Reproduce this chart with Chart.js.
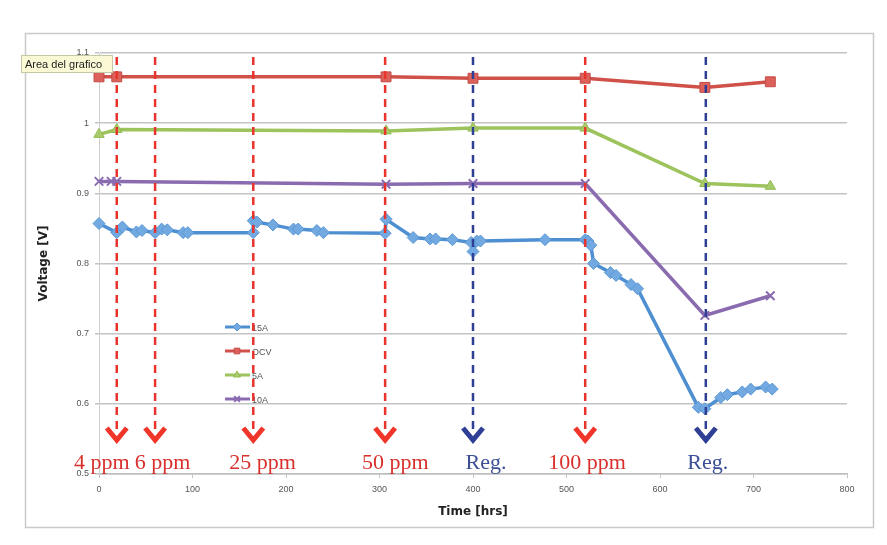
<!DOCTYPE html>
<html lang="en">
<head>
  <meta charset="UTF-8" />
  <title>Voltage vs Time</title>
  <script src="https://cdn.jsdelivr.net/npm/chart.js"></script>
  <style>
    body { margin: 0; background: #fff; }
    #wrap { width: 887px; height: 545px; }
  </style>
</head>
<body>
  <div id="wrap"><canvas id="voltChart"></canvas></div>
  <script>
    // series values
    const time15A = [0, 19, 25, 40, 46, 60, 67, 73, 90, 95, 165, 165, 169, 186, 208, 213, 233, 240,
                     306, 307, 336, 354, 360, 378, 398, 400, 404, 408, 477, 520, 523, 526, 529,
                     547, 553, 569, 576, 641, 648, 665, 672, 688, 697, 713, 720];
    const volt15A = [0.857, 0.844, 0.852, 0.845, 0.847, 0.844, 0.849, 0.848, 0.844, 0.844, 0.844, 0.861,
                     0.859, 0.855, 0.849, 0.849, 0.847, 0.844, 0.843, 0.863, 0.837, 0.835, 0.835, 0.834,
                     0.830, 0.817, 0.832, 0.832, 0.834, 0.834, 0.832, 0.826, 0.800, 0.787, 0.783,
                     0.770, 0.764, 0.595, 0.593, 0.609, 0.613, 0.617, 0.621, 0.624, 0.621];

    const timeOCV = [0, 19, 307, 400, 520, 648, 718];
    const voltOCV = [1.066, 1.066, 1.066, 1.064, 1.064, 1.051, 1.059];

    const time5A = [0, 19, 307, 400, 520, 648, 718];
    const volt5A = [0.984, 0.991, 0.989, 0.993, 0.993, 0.914, 0.910];

    const time10A = [0, 13, 19, 307, 400, 520, 648, 718];
    const volt10A = [0.917, 0.917, 0.917, 0.913, 0.914, 0.914, 0.726, 0.754];

    // events marked with arrows
    const eventTimes = [19, 60, 165, 306, 400, 520, 649];
    const eventLabels = ['4 ppm', '6 ppm', '25 ppm', '50 ppm', 'Reg.', '100 ppm', 'Reg.'];
    const eventKinds = ['dose', 'dose', 'dose', 'dose', 'reg', 'dose', 'reg'];
    const eventLabelAt = [3, 68, 175, 317, 414, 522, 651];

    const pts = (xs, ys) => xs.map((x, i) => ({ x: x, y: ys[i] }));

    const frame = {
      id: 'frame',
      beforeDraw(chart) {
        const ctx = chart.ctx;
        ctx.save();
        ctx.fillStyle = '#fff';
        ctx.fillRect(0, 0, chart.width, chart.height);
        ctx.strokeStyle = '#c9c9c9';
        ctx.lineWidth = 1.5;
        ctx.strokeRect(25.5, 33.5, 848, 494);
        ctx.restore();
      }
    };

    // legend box inside the plot
    const innerLegend = {
      id: 'innerLegend',
      afterDatasetsDraw(chart) {
        const ctx = chart.ctx;
        const a = chart.chartArea;
        const x0 = a.left + 126, y0 = 327;
        ctx.save();
        chart.data.datasets.forEach((ds, i) => {
          const y = y0 + i * 24;
          ctx.strokeStyle = ds.borderColor;
          ctx.lineWidth = 3;
          ctx.beginPath(); ctx.moveTo(x0, y); ctx.lineTo(x0 + 25, y); ctx.stroke();
          ctx.fillStyle = ds.backgroundColor;
          ctx.strokeStyle = ds.pointBorderColor;
          ctx.lineWidth = ds.pointBorderWidth;
          Chart.helpers.drawPoint(ctx, { pointStyle: ds.pointStyle, radius: 4, rotation: 0, borderWidth: ds.pointBorderWidth }, x0 + 12, y);
          ctx.fillStyle = '#555';
          ctx.font = '9px "Liberation Sans"';
          ctx.textBaseline = 'middle';
          ctx.fillText(ds.label, x0 + 27, y + 2);
        });
        ctx.restore();
      }
    };

    const events = {
      id: 'events',
      afterDatasetsDraw(chart) {
        const ctx = chart.ctx;
        const a = chart.chartArea;
        const x = chart.scales.x;
        ctx.save();
        // labels are cut by the time axis line
        ctx.beginPath();
        ctx.rect(0, 0, chart.width, a.bottom);
        ctx.clip();
        eventTimes.forEach((t, i) => {
          const px = x.getPixelForValue(t);
          const reg = eventKinds[i] === 'reg';
          const tip = a.bottom - 31;
          ctx.strokeStyle = reg ? '#2e3f95' : '#e8342c';
          ctx.lineWidth = 2.5;
          ctx.setLineDash([8, 6]);
          ctx.beginPath(); ctx.moveTo(px, a.top + 4); ctx.lineTo(px, tip - 14); ctx.stroke();
          ctx.setLineDash([]);
          ctx.strokeStyle = reg ? '#2e3f95' : '#f0362a';
          ctx.lineWidth = 5;
          ctx.lineJoin = 'miter';
          ctx.beginPath();
          ctx.moveTo(px - 10, tip - 15); ctx.lineTo(px, tip - 3); ctx.lineTo(px + 10, tip - 15);
          ctx.stroke();
          ctx.fillStyle = reg ? '#3b5096' : '#d8302c';
          ctx.font = '22px "Liberation Serif"';
          ctx.textAlign = 'center';
          ctx.fillText(eventLabels[i], x.getPixelForValue(eventLabelAt[i]), a.bottom - 5);
        });
        ctx.restore();
      }
    };

    // the "Area del grafico" hover tip from the screenshot
    const hoverTip = {
      id: 'hoverTip',
      afterDraw(chart) {
        const ctx = chart.ctx;
        ctx.save();
        ctx.fillStyle = '#fbf8d6';
        ctx.fillRect(21, 55, 92, 18);
        ctx.strokeStyle = '#c8c6a8';
        ctx.lineWidth = 1;
        ctx.strokeRect(21.5, 55.5, 91, 17);
        ctx.fillStyle = '#222';
        ctx.font = '11px "Liberation Sans"';
        ctx.textBaseline = 'middle';
        ctx.fillText('Area del grafico', 25, 64.5);
        ctx.restore();
      }
    };

    const tickFont = { family: 'Liberation Sans', size: 9 };

    new Chart(document.getElementById('voltChart'), {
      type: 'line',
      data: {
        datasets: [
          {
            label: '15A', data: pts(time15A, volt15A),
            borderColor: '#4d8fd1', backgroundColor: '#72a9e0',
            pointStyle: 'rectRot', pointRadius: 6, pointBorderColor: '#5a98d6', pointBorderWidth: 1,
            borderWidth: 3.5, clip: false
          },
          {
            label: 'OCV', data: pts(timeOCV, voltOCV),
            borderColor: '#d0504a', backgroundColor: '#dc615b',
            pointStyle: 'rect', pointRadius: 7, pointBorderColor: '#c44a45', pointBorderWidth: 1,
            borderWidth: 3.5, clip: false
          },
          {
            label: '5A', data: pts(time5A, volt5A),
            borderColor: '#9cc35c', backgroundColor: '#a9cc6a',
            pointStyle: 'triangle', pointRadius: 6, pointBorderColor: '#93bb55', pointBorderWidth: 1,
            borderWidth: 3.5, clip: false
          },
          {
            label: '10A', data: pts(time10A, volt10A),
            borderColor: '#8a6bb0', backgroundColor: '#8a6bb0',
            pointStyle: 'crossRot', pointRadius: 6, pointBorderColor: '#8a6bb0', pointBorderWidth: 2,
            borderWidth: 3.5, clip: false
          }
        ]
      },
      options: {
        responsive: true,
        maintainAspectRatio: false,
        animation: false,
        layout: { padding: { left: 33, top: 53, right: 40, bottom: 22 } },
        elements: { line: { tension: 0 } },
        plugins: {
          legend: { display: false },
          tooltip: { enabled: false }
        },
        scales: {
          x: {
            type: 'linear', min: 0, max: 800,
            ticks: { stepSize: 100, font: tickFont, color: '#555', padding: 6 },
            grid: { display: true, drawOnChartArea: false, tickLength: 4, color: '#c4c4c4' },
            border: { color: '#bdbdbd', width: 1.5 },
            title: { display: true, text: 'Time [hrs]', color: '#222',
                     font: { family: 'DejaVu Sans', size: 12, weight: 'bold' } },
            afterFit(scale) { scale.height = 49; }
          },
          y: {
            min: 0.5, max: 1.1,
            ticks: { stepSize: 0.1, font: tickFont, color: '#555', padding: 6,
                     callback: v => String(+v.toFixed(2)) },
            grid: { color: '#c4c4c4', lineWidth: 1.5, tickLength: 4 },
            border: { color: '#d0d0d0', width: 1 },
            title: { display: true, text: 'Voltage [V]', color: '#222',
                     font: { family: 'DejaVu Sans', size: 12, weight: 'bold' } },
            afterFit(scale) { scale.width = 66; }
          }
        }
      },
      plugins: [frame, innerLegend, events, hoverTip]
    });
  </script>
</body>
</html>
